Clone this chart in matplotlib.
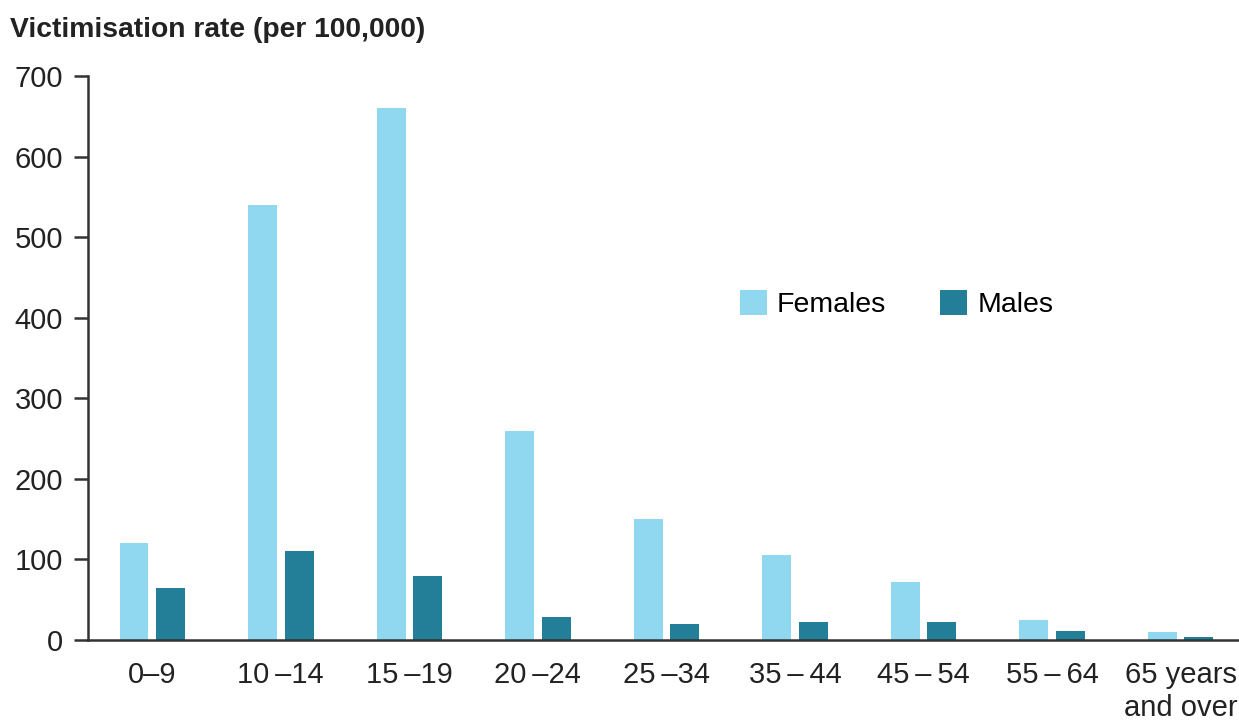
import numpy as np
import matplotlib.pyplot as plt

plt.rcParams['font.family'] = ['Liberation Sans', 'DejaVu Sans']

ages = ['0–9', '10\u2009–14', '15\u2009–19', '20\u2009–24', '25\u2009–34',
        '35\u2009–\u200944', '45\u2009–\u200954', '55\u2009–\u200964', '65 years\nand over']
females = [120, 540, 660, 260, 150, 106, 72, 25, 10]
males = [65, 110, 80, 28, 20, 22, 22, 11, 4]

c_fem = '#8fd8f0'
c_mal = '#237f97'
c_axis = '#333333'

W, H = 1239, 724
fig = plt.figure(figsize=(W / 100, H / 100), dpi=100)
ax = fig.add_axes([88 / W, (H - 640) / H, (W - 88) / W, (640 - 76) / H])

x = np.arange(len(ages))
bw = 0.225
ax.bar(x - 0.142, females, bw, color=c_fem, label='Females')
ax.bar(x + 0.142, males, bw, color=c_mal, label='Males')

ax.set_xlim(-0.5, 8.455)
ax.set_ylim(0, 700)
ax.set_yticks(range(0, 701, 100))
ax.set_xticks(x)
ax.set_xticklabels(ages, linespacing=1.25)

for s in ['top', 'right']:
    ax.spines[s].set_visible(False)
for s in ['left', 'bottom']:
    ax.spines[s].set_color(c_axis)
    ax.spines[s].set_linewidth(1.8)

ax.tick_params(axis='y', length=10, width=1.8, color=c_axis, pad=8,
               labelsize=21, labelcolor='#222222')
ax.tick_params(axis='x', length=0, pad=15, labelsize=21, labelcolor='#222222')

fig.text(10 / W, 1 - 30 / H, 'Victimisation rate (per 100,000)', fontsize=20.3,
         fontweight='bold', color='#222222', ha='left', va='center')

ax.legend(loc='center left', bbox_to_anchor=(740 / W, 1 - 304 / H),
          bbox_transform=fig.transFigure, ncol=2, frameon=False,
          fontsize=20.5, handlelength=0.95, handleheight=0.95,
          handletextpad=0.35, columnspacing=1.9, borderpad=0, borderaxespad=0)

fig.savefig('out.png', dpi=100)
